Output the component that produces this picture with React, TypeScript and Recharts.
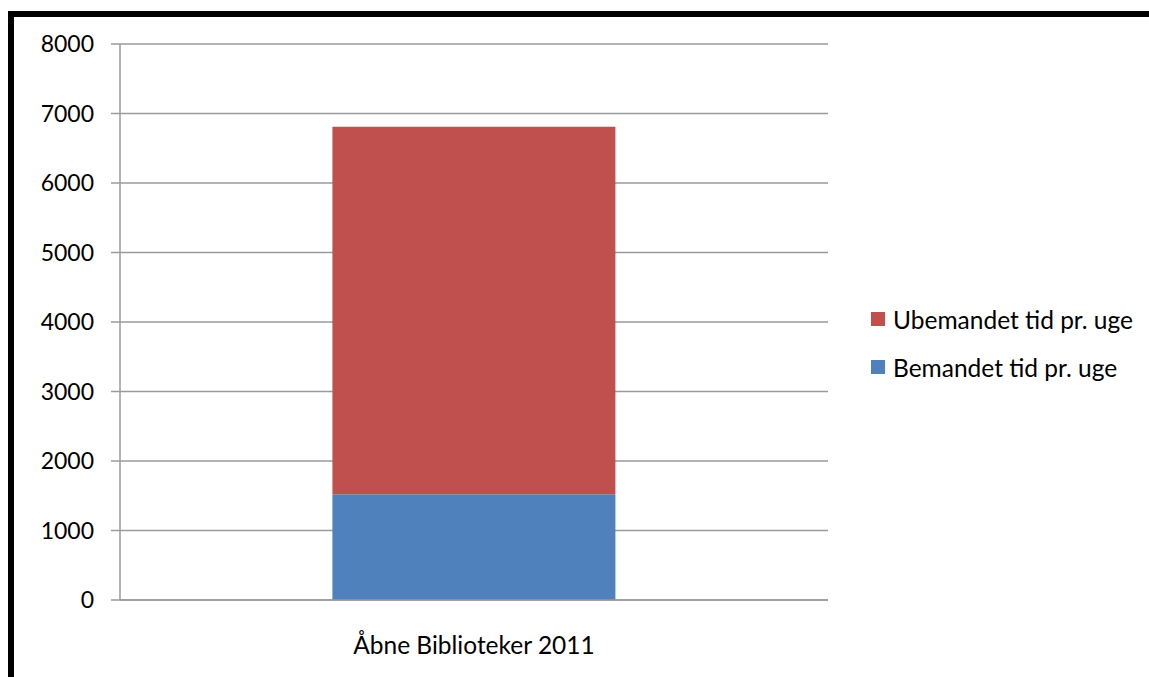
import { BarChart, Bar, XAxis, YAxis, CartesianGrid, Legend } from "recharts";

const categories = ["Åbne Biblioteker 2011"];
const bemandet = [1520];
const ubemandet = [5290];
const yTicks = [0, 1000, 2000, 3000, 4000, 5000, 6000, 7000, 8000];
const seriesKeys = ["bemandet", "ubemandet"];
const seriesNames = ["Bemandet tid pr. uge", "Ubemandet tid pr. uge"];
const seriesColors = ["#4F81BD", "#C0504D"];

const data = categories.map((c, i) => ({
  name: c,
  bemandet: bemandet[i],
  ubemandet: ubemandet[i],
}));

const font = "Lato, 'Open Sans', sans-serif";
const gray = "#9a9a9a";

function CategoryTick({ x, y, payload }: any) {
  return (
    <text x={x} y={y} dy={46} textAnchor="middle" fill="#000" fontSize={24.5} fontFamily={font}>
      {payload.value}
    </text>
  );
}

function LegendBox() {
  const rows = seriesNames.map((n, i) => ({ n, c: seriesColors[i] })).reverse();
  return (
    <div style={{ fontFamily: font, fontSize: 24.5, color: "#000" }}>
      {rows.map((r) => (
        <div key={r.n} style={{ display: "flex", alignItems: "center", height: 48 }}>
          <span style={{ width: 14, height: 14, background: r.c, marginRight: 8, display: "inline-block" }} />
          <span>{r.n}</span>
        </div>
      ))}
    </div>
  );
}

export default function App() {
  return (
    <div style={{ position: "fixed", left: 8, top: 11, right: 0, bottom: 0, overflow: "hidden" }}>
      <div style={{ border: "6px solid #000", width: 1200, height: 720, background: "#fff" }}>
        <BarChart
          width={1129}
          height={660}
          data={data}
          margin={{ top: 27, right: 315, left: 0, bottom: 0 }}
          barCategoryGap="30%"
        >
          <CartesianGrid vertical={false} stroke={gray} strokeWidth={1.5} />
          <XAxis
            dataKey="name"
            tickLine={false}
            axisLine={{ stroke: gray, strokeWidth: 1.5 }}
            height={77}
            tick={<CategoryTick />}
          />
          <YAxis
            width={106}
            domain={[0, 8000]}
            ticks={yTicks}
            tickSize={9}
            tickMargin={17}
            stroke={gray}
            strokeWidth={1.5}
            tick={{ fill: "#000", fontSize: 23, fontFamily: font }}
          />
          <Legend
            layout="horizontal"
            verticalAlign="middle"
            align="center"
            content={<LegendBox />}
            wrapperStyle={{ left: 857, top: 278, width: 270 }}
          />
          {seriesKeys.map((k, i) => (
            <Bar
              key={k}
              dataKey={k}
              name={seriesNames[i]}
              stackId="a"
              fill={seriesColors[i]}
              isAnimationActive={false}
            />
          ))}
        </BarChart>
      </div>
    </div>
  );
}
